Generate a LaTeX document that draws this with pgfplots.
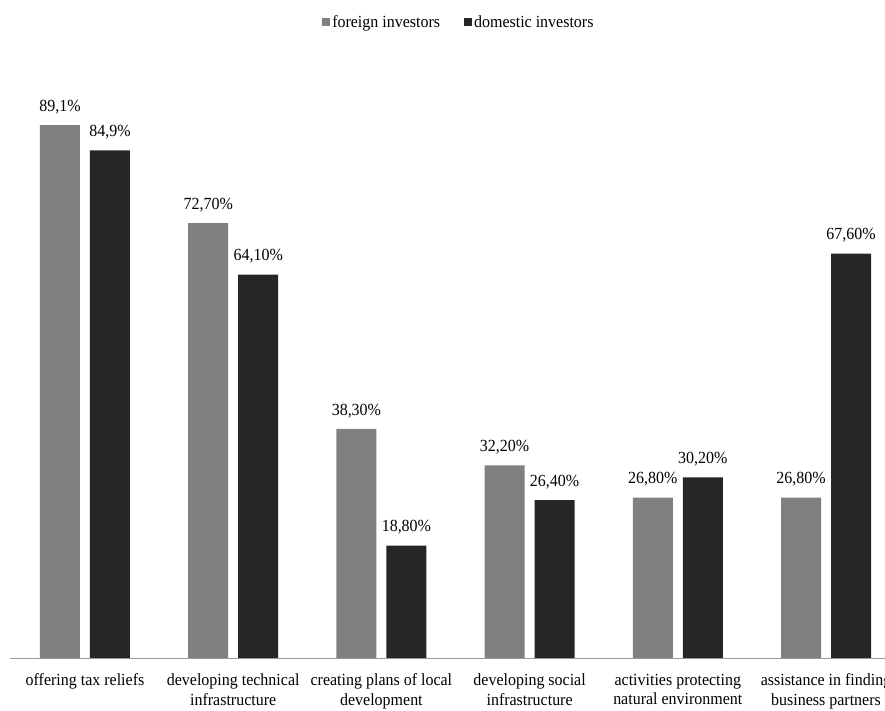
\documentclass[border=0pt]{standalone}
\usepackage{fontspec}
\setmainfont[FakeStretch=0.94]{Liberation Serif}
\usepackage{pgfplots}
\pgfplotsset{compat=1.18}
\definecolor{fgray}{HTML}{808080}
\definecolor{ddark}{HTML}{262626}
\begin{document}
\begin{tikzpicture}
\begin{axis}[
  at={(0,0)}, anchor=south west,
  scale only axis, width=875pt, height=598pt,
  ybar=10pt, bar width=40pt,
  xmin=-0.506, xmax=5.398, ymin=0, ymax=100,
  axis x line*=bottom, axis y line=none,
  x axis line style={draw=black!40, line width=0.9pt, -},
  xtick=data,
  xticklabels={{offering tax reliefs},{developing technical\\infrastructure},{creating plans of local\\development},{developing social\\infrastructure},{activities protecting\\natural environment},{assistance in finding\\business partners}},
  xtick style={draw=none},
  xticklabel style={align=center, font=\fontsize{17}{19.5}\selectfont, yshift=-8pt},
  ytick=\empty,
  nodes near coords, point meta=explicit symbolic,
  nodes near coords style={font=\fontsize{17}{19}\selectfont, anchor=south, inner sep=0pt, yshift=11pt},
  legend style={draw=none, at={(0.513,1.0635)}, anchor=center, legend columns=2,
    font=\fontsize{17}{19}\selectfont,
    /tikz/every even column/.append style={column sep=22pt}},
  legend image code/.code={\fill[#1] (0pt,-4pt) rectangle (8pt,4pt);},
  clip=false,
]
\addplot[fill=fgray, draw=none] coordinates {
  (0,89.1) [89,1\%]
  (1,72.7) [72,70\%]
  (2,38.3) [38,30\%]
  (3,32.2) [32,20\%]
  (4,26.8) [26,80\%]
  (5,26.8) [26,80\%]
};
\addplot[fill=ddark, draw=none] coordinates {
  (0,84.9) [84,9\%]
  (1,64.1) [64,10\%]
  (2,18.8) [18,80\%]
  (3,26.4) [26,40\%]
  (4,30.2) [30,20\%]
  (5,67.6) [67,60\%]
};
\legend{foreign investors, domestic investors}
\end{axis}
\pgfresetboundingbox
\path[use as bounding box] (-10pt,-53pt) rectangle (875pt,658pt);
\end{tikzpicture}
\end{document}
